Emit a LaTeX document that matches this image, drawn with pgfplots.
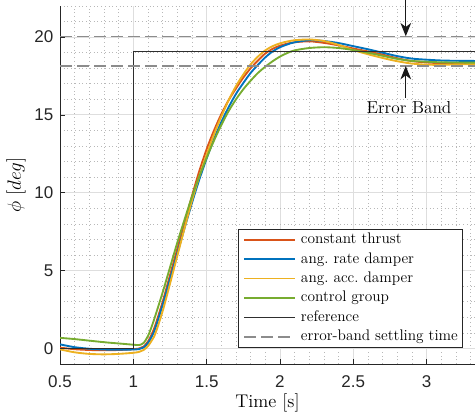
\documentclass[border=0pt]{standalone}
\usepackage{fontspec}
\usepackage{pgfplots}
\pgfplotsset{compat=1.18}
\usepackage{pgfplotstable}
\usetikzlibrary{arrows.meta}
\newfontfamily\tickfont{Liberation Sans}
\definecolor{mred}{rgb}{0.8500,0.3250,0.0980}
\definecolor{mblue}{rgb}{0,0.4470,0.7410}
\definecolor{myellow}{rgb}{0.9290,0.6940,0.1250}
\definecolor{mgreen}{rgb}{0.4660,0.6740,0.1880}
\pgfplotstableread{
t     red    blue   yellow green
0.5   0.05   0.26   -0.06  0.68
0.6   -0.05  0.08   -0.25  0.60
0.7   -0.10  -0.02  -0.35  0.50
0.8   -0.12  -0.07  -0.38  0.40
0.9   -0.10  -0.08  -0.35  0.32
1.0   -0.05  -0.07  -0.28  0.24
1.04  0.00   -0.04  -0.22  0.22
1.07  0.12   0.06   -0.10  0.35
1.10  0.45   0.35   0.15   0.80
1.125 0.90   0.75   0.50   1.40
1.15  1.50   1.30   0.95   2.10
1.20  3.00   2.80   2.40   3.60
1.25  4.70   4.45   4.15   5.20
1.30  6.40   6.10   5.95   6.80
1.35  8.10   7.75   7.75   8.30
1.40  9.80   9.35   9.50   9.75
1.45  11.40  10.85  11.05  11.05
1.50  12.80  12.20  12.45  12.25
1.55  14.00  13.45  13.75  13.35
1.60  15.05  14.55  14.90  14.35
1.65  15.95  15.50  15.95  15.25
1.70  16.70  16.35  16.85  16.00
1.75  17.40  17.05  17.60  16.65
1.80  18.00  17.70  18.25  17.20
1.85  18.50  18.22  18.75  17.70
1.90  18.95  18.70  19.15  18.10
1.95  19.25  19.08  19.42  18.45
2.00  19.45  19.35  19.60  18.75
2.05  19.58  19.53  19.72  18.98
2.10  19.67  19.67  19.80  19.15
2.20  19.73  19.80  19.85  19.30
2.30  19.63  19.75  19.75  19.35
2.40  19.47  19.62  19.50  19.30
2.50  19.27  19.42  19.17  19.17
2.60  19.08  19.22  18.90  19.00
2.70  18.88  19.00  18.66  18.80
2.80  18.64  18.78  18.45  18.60
2.90  18.46  18.62  18.30  18.47
3.00  18.37  18.55  18.23  18.42
3.10  18.33  18.50  18.22  18.38
3.20  18.32  18.48  18.25  18.37
3.33  18.32  18.47  18.27  18.36
}\data
\begin{document}
\begin{tikzpicture}
\begin{axis}[
  scale only axis, width=311.25pt, height=268.5pt,
  xmin=0.5, xmax=3.33, ymin=-1, ymax=22,
  axis x line*=bottom, axis y line*=left,
  axis line style={-, black!85, line width=0.6pt},
  xtick={0.5,1,1.5,2,2.5,3}, ytick={0,5,10,15,20},
  minor xtick={0.6,0.7,0.8,0.9,1.1,1.2,1.3,1.4,1.6,1.7,1.8,1.9,2.1,2.2,2.3,2.4,2.6,2.7,2.8,2.9,3.1,3.2,3.3},
  minor ytick={-1,1,2,3,4,6,7,8,9,11,12,13,14,16,17,18,19,21,22},
  grid=both,
  major grid style={line width=0.7pt, color=black!13},
  minor grid style={line width=0.5pt, dash pattern=on 0.6pt off 2.2pt, color=black!28},
  tick align=inside, major tick length=4pt, minor tick length=0pt,
  tick style={black!85, line width=0.6pt},
  /pgf/number format/assume math mode=true,
  ticklabel style={font=\tickfont\fontsize{12.75}{15}\selectfont, text=black!85},
  xticklabel style={yshift=-5.5pt},
  yticklabel style={xshift=-1.5pt},
  xlabel={Time [s]}, ylabel={$\phi\ [deg]$},
  xlabel style={at={(axis description cs:0.5,-0.109)}, anchor=center, font=\fontsize{13.8}{16}\selectfont},
  ylabel style={at={(axis description cs:-0.106,0.5)}, anchor=center, font=\fontsize{13.8}{16}\selectfont},
  legend cell align=left,
  legend style={at={(0.971,0.0447)}, anchor=south east, draw=black!85, line width=0.6pt, fill=white,
    font=\fontsize{11.5}{13}\selectfont, inner xsep=3.5pt, inner ysep=2pt, row sep=2.6pt, column sep=3.75pt,
    nodes={inner sep=0pt, text height=9pt, text depth=3pt}},
  legend image code/.code={\draw[#1] (0pt,0pt) -- (38pt,0pt);},
]
\addplot[mred, line width=1.4pt, smooth] table[x=t, y=red] {\data};
\addlegendentry{constant thrust}
\addplot[mblue, line width=1.4pt, smooth] table[x=t, y=blue] {\data};
\addlegendentry{ang.\ rate damper}
\addplot[myellow, line width=1.4pt, smooth] table[x=t, y=yellow] {\data};
\addlegendentry{ang.\ acc.\ damper}
\addplot[mgreen, line width=1.4pt, smooth] table[x=t, y=green] {\data};
\addlegendentry{control group}
\addplot[black!82, line width=0.9pt] coordinates {(0.5,0) (1,0) (1,19.1) (3.33,19.1)};
\addlegendentry{reference}
\addplot[black!45, line width=1.1pt, dash pattern=on 9pt off 3.75pt] coordinates {(0.5,20.055) (3.33,20.055)};
\addlegendentry{error-band settling time}
\addplot[black!45, line width=1.1pt, dash pattern=on 9pt off 3.75pt, forget plot] coordinates {(0.5,18.145) (3.33,18.145)};
\coordinate (bbsw) at (rel axis cs:0,0);
\coordinate (bbne) at (rel axis cs:1,1);
\coordinate (a1s) at (axis cs:2.858,22.39);
\coordinate (a1e) at (axis cs:2.858,20.055);
\coordinate (a2s) at (axis cs:2.858,16.1);
\coordinate (a2e) at (axis cs:2.858,18.145);
\node[font=\fontsize{13}{15}\selectfont] at (axis cs:2.88,15.5) {Error Band};
\end{axis}
\draw[black!90, line width=0.75pt, -{Stealth[length=10pt,width=8pt,inset=3pt]}] (a1s) -- (a1e);
\draw[black!90, line width=0.75pt, -{Stealth[length=10pt,width=8pt,inset=3pt]}] (a2s) -- (a2e);
\pgfresetboundingbox
\useasboundingbox ([shift={(-45pt,-39.75pt)}]bbsw) rectangle ([shift={(0pt,4.5pt)}]bbne);
\end{tikzpicture}
\end{document}
